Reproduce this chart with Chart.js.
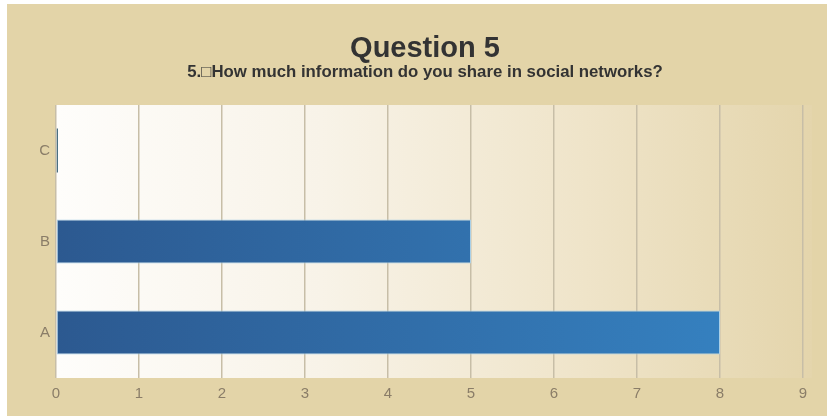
<!DOCTYPE html>
<html><head><meta charset="utf-8">
<script src="https://cdn.jsdelivr.net/npm/chart.js@4/dist/chart.umd.min.js"></script>
<style>
html,body{margin:0;padding:0;background:#ffffff;}
#wrap{position:absolute;left:7px;top:4px;width:820px;height:412px;background:#e3d4a8;}
</style></head><body>
<div id="wrap"><canvas id="c" width="820" height="412"></canvas></div>
<script>
const categories = ['C', 'B', 'A'];
const values = [0, 5, 8];
const xTicks = [0, 1, 2, 3, 4, 5, 6, 7, 8, 9];
const titleText = 'Question 5';
const subtitleText = '5.\u25A1How much information do you share in social networks?';

const plotBg = {
  id: 'plotBg',
  beforeDraw(chart) {
    const {ctx, chartArea: a} = chart;
    const g = ctx.createLinearGradient(a.left, 0, a.right + 9, 0);
    g.addColorStop(0, '#fefdfb');
    g.addColorStop(0.35, '#f8f3e8');
    g.addColorStop(0.7, '#efe4c9');
    g.addColorStop(1, '#e4d5ac');
    ctx.save();
    ctx.fillStyle = g;
    ctx.fillRect(a.left, a.top, a.right + 9 - a.left, a.bottom - a.top);
    ctx.restore();
  }
};

const titles = {
  id: 'titles',
  afterDraw(chart) {
    const ctx = chart.ctx;
    ctx.save();
    ctx.fillStyle = '#333333';
    ctx.textAlign = 'center';
    ctx.textBaseline = 'middle';
    ctx.font = 'bold 29px "Liberation Sans", Arial';
    ctx.fillText(titleText, 418, 45);
    ctx.font = 'bold 16.8px "Liberation Sans", Arial';
    ctx.fillText(subtitleText, 418, 68);
    ctx.restore();
  }
};

new Chart(document.getElementById('c'), {
  type: 'bar',
  data: {
    labels: categories,
    datasets: [{
      data: values,
      minBarLength: 2,
      categoryPercentage: 1,
      barPercentage: 0.485,
      borderWidth(ctx) { return ctx.raw === 0 ? 0 : 1; },
      borderColor: '#a9cfe6',
      borderSkipped: false,
      backgroundColor(ctx) {
        if (ctx.raw === 0) return '#4a6f82';
        const ch = ctx.chart; const a = ch.chartArea;
        if (!a) return '#2f6aa5';
        const x8 = ch.scales.x.getPixelForValue(8);
        const g = ch.ctx.createLinearGradient(a.left, 0, x8, 0);
        g.addColorStop(0, '#2c5990');
        g.addColorStop(1, '#3580bf');
        return g;
      }
    }]
  },
  options: {
    indexAxis: 'y',
    responsive: false,
    animation: false,
    layout: {padding: {left: 0, right: 24, top: 101, bottom: 0}},
    plugins: {
      legend: {display: false},
      tooltip: {enabled: false},
      title: {display: false},
      subtitle: {display: false}
    },
    scales: {
      x: {
        min: 0, max: 9,
        afterBuildTicks(s) { s.ticks = xTicks.map(v => ({value: v})); },
        afterFit(s) { s.height = 38; },
        grid: {color: '#c7bea7', lineWidth: 1.5, drawTicks: false},
        border: {display: false},
        ticks: {color: '#8a7d68', padding: 7, font: {family: 'Liberation Sans, Arial', size: 15}}
      },
      y: {
        afterFit(s) { s.width = 49; },
        grid: {display: false, drawTicks: false},
        border: {display: false},
        ticks: {color: '#8a7d68', padding: 6, font: {family: 'Liberation Sans, Arial', size: 15}}
      }
    }
  },
  plugins: [plotBg, titles]
});
</script>
</body></html>
